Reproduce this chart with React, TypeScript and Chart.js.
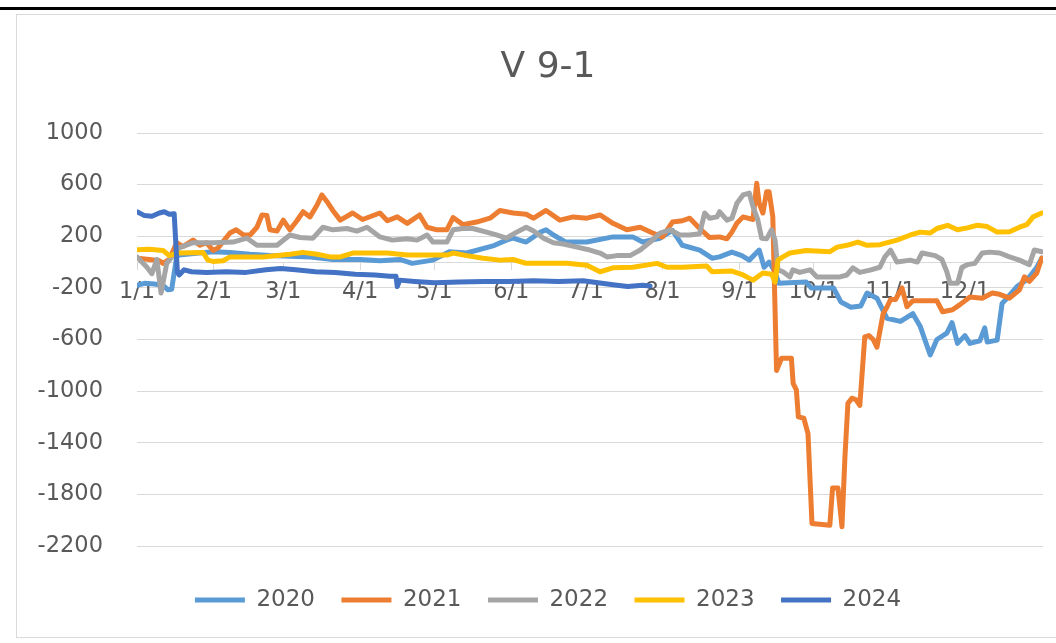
import { useEffect, useRef } from "react";
import { Chart, registerables } from "chart.js";

Chart.register(...registerables);

const FONT = "'DejaVu Sans', sans-serif";
const TEXT_COLOR = "#595959";
const GRID_COLOR = "#D9D9D9";

const chartTitle = "V 9-1";
const seriesNames = ["2020", "2021", "2022", "2023", "2024"];
const seriesColors = ["#5B9BD5", "#ED7D31", "#A5A5A5", "#FFC000", "#4472C4"];
const monthTickDays = [0, 31, 59, 90, 120, 151, 181, 212, 243, 273, 304, 334];
const monthTickLabels = ["1/1", "2/1", "3/1", "4/1", "5/1", "6/1", "7/1", "8/1", "9/1", "10/1", "11/1", "12/1"];
const yMin = -2200;
const yMax = 1000;
const yStep = 400;

// [day of year, value]
const s2020: [number, number][] = [
  [0, -180], [3, -165], [7, -170], [10.5, -180], [12.5, -215], [14, -210], [16, 40], [17, 55], [25, 70], [31, 80],
  [37.5, 75], [45.6, 60], [53.6, 50], [61.7, 45], [70, 40], [79, 20], [90, 20], [98, 10], [106, 20], [111, -10],
  [119.4, 15], [126, 80], [133, 70], [143.6, 125], [149, 170], [151.7, 185], [157, 155], [162.6, 230], [165, 250], [168, 210],
  [173, 155], [181.5, 155], [192, 195], [200, 195], [204, 155], [211, 185], [216, 245], [220, 130], [227, 93], [232, 30],
  [235, 40], [240, 77], [244, 50], [247, 15], [251, 93], [253, -40], [255, 0], [257, -60], [259, -165], [263, -160],
  [270, -155], [272, -200], [281, -200], [284, -310], [288, -350], [292, -340], [294.5, -240], [298.5, -280], [302.5, -435], [308, -460],
  [313, -400], [316, -500], [320, -720], [322.7, -600], [326.7, -550], [328.8, -470], [331, -630], [334, -570], [336, -630], [340, -610],
  [342, -510], [343, -620], [347, -605], [349, -320], [351, -280], [355, -190], [358, -150], [360, -115], [363, -40], [365, 30],
];

const s2021: [number, number][] = [
  [0, 30], [5, 20], [9, 10], [10.5, -10], [13, 20], [16, 150], [18.5, 120], [22.6, 170], [25.4, 130], [28, 150],
  [30.7, 90], [32.7, 110], [37.5, 225], [40, 250], [43, 210], [45.6, 210], [48.4, 270], [50.4, 365], [52.4, 360], [53.6, 250],
  [56.5, 240], [59, 325], [61.7, 250], [64.5, 320], [67, 390], [69.8, 350], [72.6, 440], [74.6, 520], [76.6, 470], [79, 400],
  [82, 325], [87, 380], [91, 330], [98, 380], [101, 320], [105, 350], [109, 300], [114, 365], [117, 270], [121, 250],
  [125, 250], [127.5, 345], [131.5, 290], [137, 310], [142.4, 340], [146.4, 400], [151.7, 380], [157, 370], [160, 340], [165, 400],
  [170.6, 325], [176, 350], [181.5, 340], [186.8, 365], [192, 300], [197.6, 250], [203, 270], [208, 225], [212, 195], [216, 310],
  [220, 320], [223, 340], [227, 260], [231, 190], [235, 195], [238, 180], [240, 232], [242, 300], [244.5, 350], [248.5, 330],
  [250, 610], [251, 455], [252.5, 380], [254, 545], [255, 545], [256.5, 350], [258, -840], [260, -745], [264, -745], [264.7, -940],
  [266, -990], [266.8, -1200], [269, -1210], [270.7, -1330], [272.3, -2025], [279.5, -2040], [280.6, -1750], [282.8, -1750], [284.4, -2050], [285.6, -1510],
  [286.8, -1095], [288.4, -1055], [290, -1065], [291.6, -1110], [293.6, -580], [295.3, -570], [297, -600], [298.5, -660], [301, -400], [302.5, -350],
  [304, -290], [306, -290], [308.6, -200], [310.6, -345], [313, -300], [317.9, -300], [322.7, -300], [325, -385], [329, -370], [332, -330],
  [336, -270], [341, -280], [345, -240], [348, -250], [352, -280], [356, -215], [358, -115], [360, -150], [363, -85], [365, 30],
];

const s2022: [number, number][] = [
  [0, 40], [4, -40], [6, -90], [8, 20], [9.7, -240], [12, -10], [14, 40], [17, 110], [22.6, 150], [30.7, 150],
  [38.7, 155], [44.4, 185], [48.4, 130], [56.5, 130], [61.7, 210], [65.8, 190], [71, 185], [75, 270], [79, 250], [84.7, 260],
  [88.7, 240], [92.8, 270], [98, 195], [103, 170], [109, 180], [113, 170], [117, 210], [119.4, 155], [125, 155], [127.5, 250],
  [131.5, 260], [135.5, 260], [141, 232], [145, 210], [149, 185], [153, 230], [157, 270], [160, 240], [164, 185], [168, 150],
  [172, 140], [177.5, 116], [182.7, 93], [186.8, 70], [189.6, 40], [193.6, 50], [198.9, 50], [203, 93], [207, 155], [211, 225],
  [215, 250], [219, 210], [223, 210], [227, 220], [229, 380], [231, 340], [234, 350], [235, 390], [238, 325], [240, 340],
  [242, 455], [244.5, 520], [247, 535], [248.5, 430], [250.4, 330], [252, 185], [254, 180], [256, 250], [257.4, 170], [258.6, -60],
  [260.6, -75], [263.4, -115], [264.6, -60], [267.4, -80], [271.5, -60], [274.3, -115], [283.6, -115], [286.4, -100], [288.8, -45], [291.6, -80],
  [295.7, -62], [299.7, -40], [301.7, 40], [304, 93], [306.6, 0], [312, 15], [314.8, 0], [316.7, 70], [322, 50], [324.7, 20],
  [326.7, -75], [328, -165], [331, -165], [332.8, -40], [335, -20], [338, -10], [341, 70], [344, 77], [348, 70], [352, 40],
  [356, 15], [360, -20], [362, 93], [365, 80],
];

const s2023: [number, number][] = [
  [0, 95], [5, 100], [10.5, 90], [13, 50], [17, 70], [26.6, 75], [28.6, 15], [30.7, 5], [34.7, 10], [37.5, 40],
  [50.8, 40], [61.7, 60], [67, 75], [72.6, 60], [78, 40], [82, 40], [87, 70], [101, 70], [109, 55], [125, 54],
  [127.5, 70], [133, 50], [139.6, 30], [146.4, 15], [151.7, 20], [157, -10], [173.5, -10], [181.5, -25], [186.8, -75], [192, -45],
  [200, -40], [209.8, -10], [213.8, -40], [220, -40], [229.8, -30], [232, -75], [240, -70], [244.5, -100], [248.5, -140], [252.5, -85],
  [256, -95], [257.4, -155], [258.6, 15], [260.6, 40], [263.4, 70], [270, 90], [279.5, 80], [282.4, 116], [286.4, 130], [290.8, 155],
  [294.5, 130], [299.7, 135], [306.6, 170], [312, 210], [316, 232], [320, 225], [322.7, 260], [327, 285], [331, 250], [335, 265],
  [339, 285], [343, 275], [347, 232], [352, 235], [356, 270], [359, 290], [361.5, 350], [365, 380],
];

const s2024: [number, number][] = [
  [0, 390], [3, 360], [6, 355], [9, 380], [11, 390], [13, 370], [15, 375], [16.3, -80], [17, -100], [19, -60],
  [22, -75], [28, -80], [36, -75], [44, -80], [52, -60], [58, -50], [64, -60], [72, -75], [80, -80], [88, -95],
  [96, -100], [102, -110], [104.5, -110], [105, -190], [106, -140], [112, -150], [120, -160], [130, -155], [140, -150], [150, -150],
  [160, -145], [170, -150], [180, -145], [186, -160], [192, -175], [198, -190], [204, -180], [207, -185],
];

const seriesData = [s2020, s2021, s2022, s2023, s2024];

export default function App() {
  const ref = useRef<HTMLCanvasElement | null>(null);

  useEffect(() => {
    if (!ref.current) return;
    const chart = new Chart(ref.current, {
      type: "line",
      data: {
        datasets: seriesNames.map((name, i) => ({
          label: name,
          data: seriesData[i].map(([x, y]) => ({ x, y })),
          borderColor: seriesColors[i],
          backgroundColor: seriesColors[i],
          borderWidth: 5,
          pointRadius: 0,
          pointHoverRadius: 0,
          tension: 0,
          borderJoinStyle: "round",
          borderCapStyle: "round",
          order: seriesNames.length - 1 - i,
        })),
      },
      options: {
        animation: false,
        responsive: true,
        maintainAspectRatio: false,
        layout: { padding: { left: 18, right: 9, top: 0, bottom: 15.5 } },
        scales: {
          x: {
            type: "linear",
            min: 0,
            max: 365.5,
            position: { y: 0 } as any,
            afterBuildTicks: (s: any) => {
              s.ticks = monthTickDays.map((v) => ({ value: v }));
            },
            afterFit: (s: any) => {
              s.height = 0;
            },
            ticks: {
              autoSkip: false,
              maxRotation: 0,
              minRotation: 0,
              padding: 10,
              color: TEXT_COLOR,
              font: { family: FONT, size: 22.5 },
              callback: (_v: any, idx: number) => monthTickLabels[idx],
            },
            grid: { drawOnChartArea: false, drawTicks: true, tickLength: 7, color: GRID_COLOR, lineWidth: 1 },
            border: { display: true, color: GRID_COLOR, width: 1 },
          },
          y: {
            type: "linear",
            position: "left",
            min: yMin,
            max: yMax,
            afterFit: (s: any) => {
              s.width = 102;
            },
            ticks: {
              stepSize: yStep,
              padding: 34,
              color: TEXT_COLOR,
              font: { family: FONT, size: 22.5 },
              callback: (v: any) => String(v),
            },
            grid: { color: GRID_COLOR, lineWidth: 1, drawTicks: false },
            border: { display: false },
          },
          spacer: {
            type: "linear",
            position: "right",
            display: true,
            afterFit: (s: any) => {
              s.width = 18;
            },
            ticks: { display: false },
            grid: { display: false, drawOnChartArea: false, drawTicks: false },
            border: { display: false },
          },
        },
        plugins: {
          title: {
            display: true,
            text: chartTitle,
            color: TEXT_COLOR,
            font: { family: FONT, size: 36, weight: "normal" },
            padding: { top: 31.4, bottom: 43.4 },
          },
          legend: {
            display: true,
            position: "bottom",
            title: { display: true, text: " ", font: { size: 1 }, padding: { top: 14.8, bottom: 0 } },
            labels: {
              usePointStyle: true,
              pointStyle: "line",
              pointStyleWidth: 50,
              padding: 26.5,
              color: TEXT_COLOR,
              font: { family: FONT, size: 23 },
              sort: (a: any, b: any) => a.datasetIndex - b.datasetIndex,
            },
          },
          tooltip: { enabled: false },
        },
      },
    });
    return () => chart.destroy();
  }, []);

  return (
    <div style={{ position: "fixed", left: 0, top: 0, width: 1056, height: 643, overflow: "hidden", background: "#fff" }}>
      <div style={{ position: "absolute", left: 0, top: 7, width: 1056, height: 3, background: "#000" }} />
      <div
        style={{
          position: "absolute",
          left: 16,
          top: 14,
          width: 1053,
          height: 622,
          borderLeft: `1px solid ${GRID_COLOR}`,
          borderTop: `1px solid ${GRID_COLOR}`,
          borderBottom: `1px solid ${GRID_COLOR}`,
        }}
      >
        <canvas ref={ref} />
      </div>
    </div>
  );
}
